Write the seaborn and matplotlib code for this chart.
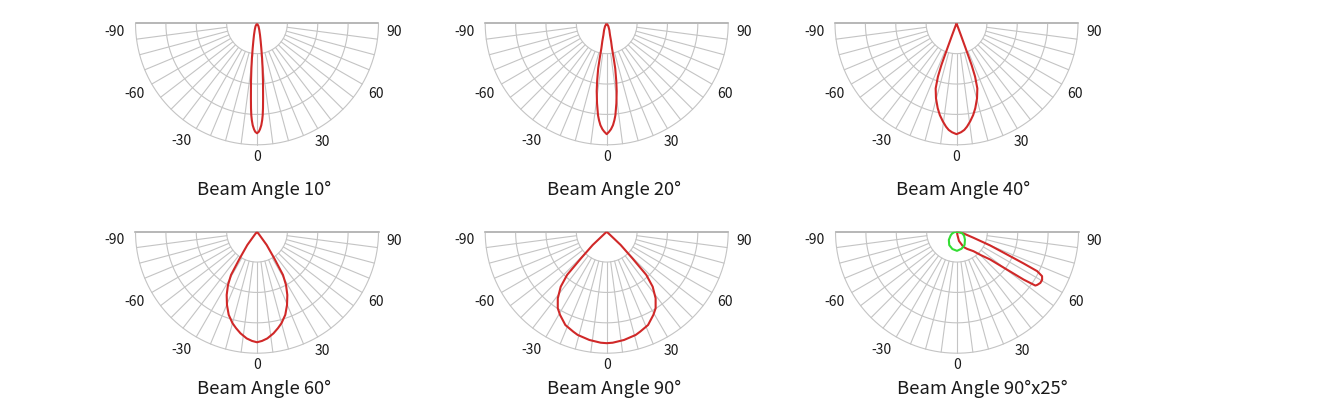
import numpy as np
import matplotlib
matplotlib.use("Agg")
import matplotlib.pyplot as plt
import seaborn as sns

# ---------------- data ----------------
titles = ["Beam Angle 10°", "Beam Angle 20°", "Beam Angle 40°",
          "Beam Angle 60°", "Beam Angle 90°", "Beam Angle 90°x25°"]

tick_values = [-90, -60, -30, 0, 30, 60, 90]

# polar outlines: angle in degrees (0 = straight down), radius in ring units (outer ring = 4)
beam10_angle = [-30, -26.6, -18.9, -14.4, -11.6, -9.8, -8.3, -7.1, -5.9, -4.65, -4.04,
                -3.55, -3.07, -2.41, -1.62, -0.95, 0,
                0.95, 1.62, 2.41, 3.07, 3.55, 4.04, 4.65, 5.9, 7.1, 8.3, 9.8, 11.6,
                14.4, 18.9, 26.6, 30]
beam10_r = [0, 0.11, 0.23, 0.40, 0.60, 0.835, 1.16, 1.49, 1.92, 2.47, 2.80,
            3.03, 3.19, 3.36, 3.49, 3.57, 3.62,
            3.57, 3.49, 3.36, 3.19, 3.03, 2.80, 2.47, 1.92, 1.49, 1.16, 0.835, 0.60,
            0.40, 0.23, 0.11, 0]

beam20_angle = [-32, -29.5, -21.2, -15.75, -13.7, -12.0, -11.3, -10.7, -9.4, -8.37, -6.91,
                -5.40, -4.54, -3.53, -2.32, -1.27, 0,
                1.27, 2.32, 3.53, 4.54, 5.40, 6.91, 8.37, 9.4, 10.7, 11.3, 12.0, 13.7,
                15.75, 21.2, 29.5, 32]
beam20_r = [0, 0.11, 0.24, 0.40, 0.61, 0.84, 1.17, 1.51, 1.93, 2.26, 2.65,
            3.04, 3.20, 3.36, 3.49, 3.57, 3.65,
            3.57, 3.49, 3.36, 3.20, 3.04, 2.65, 2.26, 1.93, 1.51, 1.17, 0.84, 0.61,
            0.40, 0.24, 0.11, 0]

beam40_angle = [-22, -20.4, -20.3, -20.1, -19.9, -19.2, -17.75, -15.3, -12.5, -10.3,
                -7.93, -5.80, -4.18, -2.36, 0,
                2.36, 4.18, 5.80, 7.93, 10.3, 12.5, 15.3, 17.75, 19.2, 19.9, 20.1,
                20.3, 20.4, 22]
beam40_r = [0, 0.115, 0.41, 0.87, 1.46, 1.86, 2.25, 2.56, 2.86, 3.07,
            3.26, 3.42, 3.52, 3.59, 3.65,
            3.59, 3.52, 3.42, 3.26, 3.07, 2.86, 2.56, 2.25, 1.86, 1.46, 0.87,
            0.41, 0.115, 0]

beam60_angle = [-40, -37.1, -36.1, -32.9, -31.0, -28.55, -25.6, -22.25, -18.8, -14.96,
                -12.25, -9.22, -5.51, -2.62, 0,
                2.62, 5.51, 9.22, 12.25, 14.96, 18.8, 22.25, 25.6, 28.55, 31.0, 32.9,
                36.1, 37.1, 40]
beam60_r = [0, 0.136, 0.54, 1.05, 1.66, 2.00, 2.31, 2.61, 2.89, 3.12,
            3.25, 3.39, 3.53, 3.60, 3.64,
            3.60, 3.53, 3.39, 3.25, 3.12, 2.89, 2.61, 2.31, 2.00, 1.66, 1.05,
            0.54, 0.136, 0]

beam90_angle = [-50, -46.7, -46.5, -44.0, -42.5, -39.9, -36.3, -32.6, -29.3, -23.9,
                -18.5, -15.7, -9.08, -3.09, 0,
                3.09, 9.08, 15.7, 18.5, 23.9, 29.3, 32.6, 36.3, 39.9, 42.5, 44.0,
                46.5, 46.7, 50]
beam90_r = [0, 0.158, 0.635, 1.22, 1.93, 2.36, 2.72, 2.99, 3.14, 3.36,
            3.47, 3.53, 3.61, 3.66, 3.67,
            3.66, 3.61, 3.53, 3.47, 3.36, 3.14, 2.99, 2.72, 2.36, 1.93, 1.22,
            0.635, 0.158, 0]

beam9025_main_angle = [80, 75, 69.8, 67.5, 65.5, 64.5, 63.8, 62.4, 60.5, 58.4, 56.5,
                       55.5, 54.3, 52.8, 50.0, 45.5, 40.2, 30.0, 22.8, 12.0, 6.0, 0]
beam9025_main_r = [0, 0.22, 0.575, 1.18, 1.81, 2.43, 2.94, 3.16, 3.22, 3.22, 3.17,
                   3.13, 2.70, 2.06, 1.42, 1.10, 0.84, 0.65, 0.54, 0.31, 0.09, 0]

beam9025_side_angle = [90, 80, 70, 60, 45, 30, 15, 0, -15, -30, -45, -60, -70, -80, -90]
beam9025_side_r = [0, 0.12, 0.20, 0.27, 0.37, 0.50, 0.58, 0.63, 0.59, 0.51, 0.38,
                   0.24, 0.17, 0.09, 0]

curves = [
    [(beam10_angle, beam10_r, "red")],
    [(beam20_angle, beam20_r, "red")],
    [(beam40_angle, beam40_r, "red")],
    [(beam60_angle, beam60_r, "red")],
    [(beam90_angle, beam90_r, "red")],
    [(beam9025_main_angle, beam9025_main_r, "red"),
     (beam9025_side_angle, beam9025_side_r, "green")],
]

# ---------------- layout / style ----------------
W, H = 1323, 401
R = 121.5
centers = [(257, 23.3), (606.7, 23.3), (956.5, 23.3),
           (257, 231.7), (606.7, 231.7), (957, 231.7)]
title_y = [190, 190, 190, 389, 389, 389]
label_pos = {-90: (-86.5, 4.70), -60: (-60, 4.65), -30: (-32.5, 4.60), 0: (0, 4.40),
             30: (28.6, 4.46), 60: (59.3, 4.54), 90: (86.3, 4.54)}
colors = {"red": "#d02828", "green": "#33dd33"}
grid_c = "#c4c4c4"
top_c = "#b8b8b8"

sns.set_theme(style="white")
plt.rcParams["font.family"] = ["Noto Sans CJK SC", "DejaVu Sans"]
plt.rcParams["axes.edgecolor"] = top_c

fig = plt.figure(figsize=(W / 100, H / 100), dpi=100)
fig.patch.set_facecolor("white")

th_arc = np.linspace(-np.pi / 2, np.pi / 2, 300)
for i, (cx, cy) in enumerate(centers):
    # square box; the half-disc wedge is centred vertically inside it
    bc_y = cy + R / 2
    ax = fig.add_axes([(cx - R) / W, (H - (bc_y + R)) / H, 2 * R / W, 2 * R / H],
                      projection="polar")
    ax.set_theta_zero_location("S")
    ax.set_theta_direction(1)
    ax.set_thetamin(-90)
    ax.set_thetamax(90)
    ax.grid(False)
    ax.patch.set_alpha(0)

    # grid: rings and spokes (inner disc left empty)
    for rr in [1, 2, 3, 4]:
        ax.plot(th_arc, np.full_like(th_arc, rr), color=grid_c, lw=0.8,
                clip_on=False, zorder=1)
    for a in np.arange(-82.5, 82.6, 7.5):
        ax.plot([np.deg2rad(a)] * 2, [1, 4], color=grid_c, lw=0.8,
                clip_on=False, zorder=1)
    for a in (-90, 90):
        ax.plot([np.deg2rad(a)] * 2, [0, 4], color=top_c, lw=1.4,
                clip_on=False, zorder=1, solid_capstyle="butt")

    for ang, rad, c in curves[i]:
        sns.lineplot(x=np.deg2rad(ang), y=np.asarray(rad, float), ax=ax,
                     sort=False, estimator=None, color=colors[c], lw=1.5,
                     zorder=3)
    ax.set_rlim(0, 4)
    ax.set_xticks([])
    ax.set_yticks([])
    ax.set_xlabel("")
    ax.set_ylabel("")
    ax.grid(False)
    for sp in ax.spines.values():
        sp.set_visible(False)

    for v in tick_values:
        la, lr = label_pos[v]
        ax.text(np.deg2rad(la), lr, f"{v}", ha="center", va="center",
                fontsize=10, color="#1a1a1a", clip_on=False)

    fig.text((cx - 60) / W, 1 - title_y[i] / H, titles[i], ha="left",
             va="center", fontsize=13.3, color="#1a1a1a")

fig.savefig("out.png", dpi=100, facecolor="white")
